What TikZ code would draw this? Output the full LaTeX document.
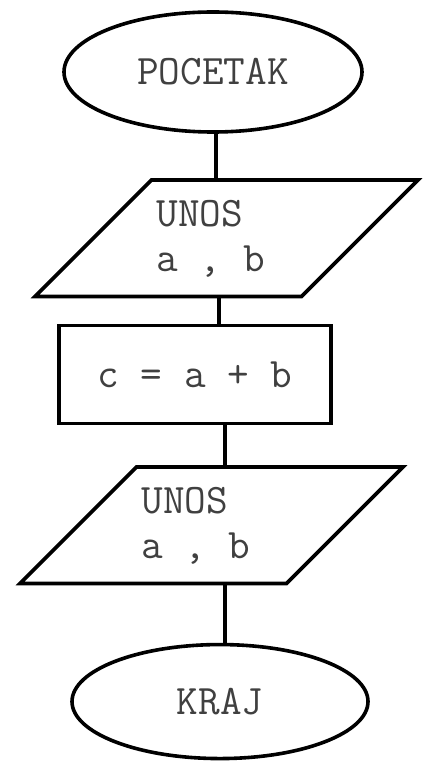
\documentclass[tikz,border=0pt]{standalone}
\usetikzlibrary{shapes.geometric,positioning}
\newcommand\flowfont{\fontsize{42}{45}\selectfont\ttfamily}
\definecolor{ink}{gray}{0.25}

\begin{document}
\begin{tikzpicture}[
  x=1pt, y=1pt,
  term/.style={ellipse, draw, line width=3.6pt, font=\flowfont, text=ink, inner sep=0pt},
  io/.style={trapezium, trapezium left angle=45, trapezium right angle=135, draw, line width=3.6pt,
    font=\flowfont, text=ink, align=flush left, text width=140pt, text height=46.5pt, text depth=70pt,
    inner xsep=5pt, inner ysep=0pt},
  proc/.style={rectangle, draw, line width=3.6pt, font=\flowfont, text=ink, minimum width=272pt, minimum height=98pt},
  link/.style={line width=3.6pt}
]
  \useasboundingbox (0,0) rectangle (424,-762);

  % Start
  \node[term, minimum width=298pt, minimum height=120pt] (start) at (213,-72) {POCETAK};

  % Input, sum, input
  \node[io, below=44.4pt of start, xshift=13.5pt] (in1) {UNOS\\a , b};
  \node[proc, below=25.4pt of in1, xshift=-31.5pt] (calc) {c = a + b};
  \node[io, below=39.9pt of calc, xshift=16.5pt] (in2) {UNOS\\a , b};

  % End
  \node[term, minimum width=296pt, minimum height=114pt, below=57.4pt of in2, xshift=8.5pt] (end) {KRAJ};

  % Links
  \draw[link] ([xshift=3pt]start.south) -- ([xshift=3pt]start.south |- in1.north);
  \draw[link] ([xshift=-7.5pt]in1.south) -- ([xshift=-7.5pt]in1.south |- calc.north);
  \draw[link] ([xshift=30pt]calc.south) -- ([xshift=30pt]calc.south |- in2.north);
  \draw[link] ([xshift=13.5pt]in2.south) -- ([xshift=13.5pt]in2.south |- end.north);
\end{tikzpicture}
\end{document}
